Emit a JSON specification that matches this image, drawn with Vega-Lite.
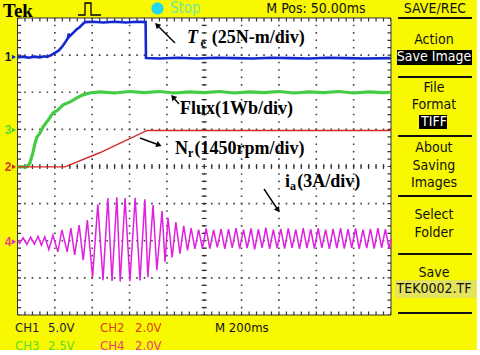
{
"$schema": "https://vega.github.io/schema/vega-lite/v6.json",
"width": 480, "height": 355,
"autosize": {"type": "fit", "contains": "padding"},
"padding": 0,
"background": "#ffffff",
"config": {"view": {"stroke": null}},
"data": {"values": [{}]},
"datasets": {
"vgrid": [{"d":1},{"d":2},{"d":3},{"d":4},{"d":5},{"d":6},{"d":7},{"d":8},{"d":9}],
"hgrid": [{"d":1},{"d":2},{"d":3},{"d":4},{"d":5},{"d":6},{"d":7}],
"ch1": [{"t":0,"v":6.94},{"t":0.15,"v":6.96},{"t":0.3,"v":6.93},{"t":0.45,"v":6.96},{"t":0.6,"v":6.94},{"t":0.72,"v":6.97},{"t":0.79,"v":6.95},{"t":0.9,"v":7.0},{"t":1.0,"v":7.06},{"t":1.1,"v":7.12},{"t":1.19,"v":7.22},{"t":1.27,"v":7.33},{"t":1.35,"v":7.46},{"t":1.37,"v":7.58},{"t":1.39,"v":7.5},{"t":1.49,"v":7.6},{"t":1.58,"v":7.69},{"t":1.67,"v":7.76},{"t":1.75,"v":7.84},{"t":1.81,"v":7.89},{"t":2.0,"v":7.9},{"t":2.3,"v":7.88},{"t":2.6,"v":7.9},{"t":2.9,"v":7.88},{"t":3.2,"v":7.9},{"t":3.43,"v":7.89},{"t":3.44,"v":6.92},{"t":3.8,"v":6.91},{"t":4.3,"v":6.93},{"t":4.8,"v":6.91},{"t":5.3,"v":6.93},{"t":5.8,"v":6.92},{"t":6.3,"v":6.91},{"t":6.8,"v":6.93},{"t":7.3,"v":6.92},{"t":7.8,"v":6.91},{"t":8.3,"v":6.93},{"t":8.8,"v":6.92},{"t":9.3,"v":6.91},{"t":10,"v":6.92}],
"ch2": [{"t":0,"v":3.99},{"t":1.27,"v":3.99},{"t":2.2,"v":4.37},{"t":3.47,"v":4.97},{"t":10,"v":4.97}],
"ch3": [{"t":0,"v":3.99},{"t":0.25,"v":3.99},{"t":0.33,"v":4.09},{"t":0.41,"v":4.36},{"t":0.47,"v":4.63},{"t":0.52,"v":4.79},{"t":0.6,"v":4.9},{"t":0.68,"v":5.06},{"t":0.82,"v":5.25},{"t":0.95,"v":5.44},{"t":1.08,"v":5.52},{"t":1.22,"v":5.66},{"t":1.41,"v":5.74},{"t":1.59,"v":5.85},{"t":1.75,"v":5.93},{"t":1.94,"v":5.98},{"t":2.21,"v":6.01},{"t":2.6,"v":5.98},{"t":3.0,"v":6.02},{"t":3.4,"v":5.99},{"t":3.8,"v":6.02},{"t":4.2,"v":5.98},{"t":4.6,"v":6.01},{"t":5.0,"v":5.99},{"t":5.4,"v":6.02},{"t":5.8,"v":5.98},{"t":6.2,"v":6.01},{"t":6.6,"v":5.99},{"t":7.0,"v":6.02},{"t":7.4,"v":5.98},{"t":7.8,"v":6.01},{"t":8.2,"v":5.99},{"t":8.6,"v":6.02},{"t":9.0,"v":5.98},{"t":9.4,"v":6.01},{"t":9.8,"v":5.99},{"t":10,"v":6.0}],
"ch4": [{"t":0,"v":2.0},{"t":0.06,"v":1.93},{"t":0.15,"v":2.08},{"t":0.25,"v":1.9},{"t":0.35,"v":2.1},{"t":0.45,"v":1.91},{"t":0.55,"v":2.12},{"t":0.64,"v":1.88},{"t":0.73,"v":2.11},{"t":0.84,"v":1.76},{"t":0.95,"v":2.15},{"t":1.08,"v":1.7},{"t":1.19,"v":2.29},{"t":1.33,"v":1.7},{"t":1.43,"v":2.34},{"t":1.53,"v":1.62},{"t":1.65,"v":2.42},{"t":1.76,"v":1.48},{"t":1.87,"v":2.56},{"t":2.01,"v":1.02},{"t":2.15,"v":2.98},{"t":2.29,"v":0.94},{"t":2.42,"v":3.15},{"t":2.53,"v":0.92},{"t":2.66,"v":3.17},{"t":2.75,"v":0.9},{"t":2.88,"v":3.15},{"t":3.01,"v":0.91},{"t":3.15,"v":3.16},{"t":3.28,"v":0.93},{"t":3.41,"v":3.12},{"t":3.49,"v":1.02},{"t":3.63,"v":2.96},{"t":3.73,"v":1.21},{"t":3.87,"v":2.8},{"t":3.95,"v":1.43},{"t":4.03,"v":2.62},{"t":4.14,"v":1.55},{"t":4.24,"v":2.5},{"t":4.35,"v":1.65},{"t":4.45,"v":2.4},{"t":4.55,"v":1.74},{"t":4.65,"v":2.34},{"t":4.75,"v":1.78},{"t":4.85,"v":2.3},{"t":4.95,"v":1.8},{"t":5.05,"v":2.33},{"t":5.15,"v":1.79},{"t":5.25,"v":2.29},{"t":5.35,"v":1.82},{"t":5.45,"v":2.32},{"t":5.55,"v":1.78},{"t":5.65,"v":2.31},{"t":5.75,"v":1.81},{"t":5.85,"v":2.34},{"t":5.95,"v":1.79},{"t":6.05,"v":2.3},{"t":6.15,"v":1.8},{"t":6.25,"v":2.33},{"t":6.35,"v":1.77},{"t":6.45,"v":2.31},{"t":6.55,"v":1.81},{"t":6.65,"v":2.35},{"t":6.75,"v":1.78},{"t":6.85,"v":2.3},{"t":6.95,"v":1.8},{"t":7.05,"v":2.32},{"t":7.15,"v":1.79},{"t":7.25,"v":2.33},{"t":7.35,"v":1.81},{"t":7.45,"v":2.3},{"t":7.55,"v":1.78},{"t":7.65,"v":2.34},{"t":7.75,"v":1.8},{"t":7.85,"v":2.31},{"t":7.95,"v":1.79},{"t":8.05,"v":2.33},{"t":8.15,"v":1.81},{"t":8.25,"v":2.3},{"t":8.35,"v":1.78},{"t":8.45,"v":2.32},{"t":8.55,"v":1.8},{"t":8.65,"v":2.34},{"t":8.75,"v":1.79},{"t":8.85,"v":2.31},{"t":8.95,"v":1.81},{"t":9.05,"v":2.33},{"t":9.15,"v":1.78},{"t":9.25,"v":2.3},{"t":9.35,"v":1.8},{"t":9.45,"v":2.32},{"t":9.55,"v":1.79},{"t":9.65,"v":2.34},{"t":9.75,"v":1.81},{"t":9.85,"v":2.31},{"t":9.95,"v":1.79},{"t":10,"v":2.05}],
"markers": [{"ch":"1","lvl":6.95},{"ch":"2","lvl":3.99},{"ch":"3","lvl":4.98},{"ch":"4","lvl":1.97}],
"ann": [{"txt":"(25N-m/div)","x":5.2,"y":7.317},{"txt":"Flux(1Wb/div)","x":4.351,"y":5.414},{"txt":"N","x":4.217,"y":4.337},{"txt":"(1450rpm/div)","x":4.74,"y":4.337},{"txt":"i","x":7.162,"y":3.448},{"txt":"(3A/div)","x":7.49,"y":3.448}],
"annT": [{"txt":"T","x":4.54,"y":7.317}],
"subs": [{"txt":"e","x":4.9,"y":7.219},{"txt":"r","x":4.565,"y":4.256},{"txt":"a","x":7.296,"y":3.367}],
"arrows": [{"x":4.217,"y":7.327,"x2":3.735,"y2":7.811},{"x":4.324,"y":5.684,"x2":4.163,"y2":5.872},{"x":3.28,"y":4.768,"x2":3.789,"y2":4.579},{"x":6.6,"y":3.394,"x2":6.975,"y2":2.828}],
"menu": [{"txt":"Action","y":7.407},{"txt":"File","y":6.114},{"txt":"Format","y":5.657},{"txt":"About","y":4.498},{"txt":"Saving","y":4.013},{"txt":"Images","y":3.556},{"txt":"Select","y":2.694},{"txt":"Folder","y":2.209},{"txt":"Save","y":1.131},{"txt":"TEK0002.TF","y":0.7}],
"menuInv": [{"txt":"Save Image","y":6.936},{"txt":"TIFF","y":5.199}],
"seps": [{"y":8.0},{"y":6.411},{"y":4.822},{"y":3.205},{"y":1.643},{"y":0.054}],
"boxes": [{"x":10.161,"x2":12.169,"y":6.734,"y2":7.138},{"x":10.75,"x2":11.5,"y":5.01,"y2":5.387}],
"topTxt": [{"txt":"M Pos: 50.00ms","x":7.992,"y":8.135},{"txt":"SAVE/REC","x":11.178,"y":8.135}],
"bot": [{"txt":"CH1","x":-0.067,"y":-0.46,"g":"1"},{"txt":"5.0V","x":0.817,"y":-0.46,"g":"1"},{"txt":"CH2","x":2.209,"y":-0.46,"g":"2"},{"txt":"2.0V","x":3.146,"y":-0.46,"g":"2"},{"txt":"M 200ms","x":5.288,"y":-0.46,"g":"M"},{"txt":"CH3","x":-0.067,"y":-0.93,"g":"3"},{"txt":"2.5V","x":0.817,"y":-0.93,"g":"3"},{"txt":"CH4","x":2.209,"y":-0.93,"g":"4"},{"txt":"2.0V","x":3.146,"y":-0.93,"g":"4"}],
"trig": [{"t":1.62,"v":8.081},{"t":1.807,"v":8.081},{"t":1.808,"v":8.404},{"t":1.968,"v":8.404},{"t":1.969,"v":8.081},{"t":2.236,"v":8.081}]
},
"layer": [
{"mark": {"type":"rect","color":"#f8f800"},
 "encoding": {"x":{"datum":-0.4685,"type":"quantitative","scale":{"domain":[-0.4685,12.383],"nice":false,"zero":false},"axis":null},"x2":{"datum":12.3},
  "y":{"datum":-0.943,"type":"quantitative","scale":{"domain":[-1.0774,8.4848],"nice":false,"zero":false},"axis":null},"y2":{"datum":8.4848}}},
{"mark": {"type":"rect","color":"#ffffff"},
 "encoding": {"x":{"datum":0,"type":"quantitative","axis":null},"x2":{"datum":10},"y":{"datum":0,"type":"quantitative","axis":null},"y2":{"datum":8}}},
{"mark": {"type":"rect","color":"#e4e45c"},
 "encoding": {"x":{"datum":10.107,"type":"quantitative","axis":null},"x2":{"datum":12.3},"y":{"datum":0.458,"type":"quantitative","axis":null},"y2":{"datum":0.943}}},
{"data":{"name":"boxes"},"mark": {"type":"rect","color":"#000000"},
 "encoding": {"x":{"field":"x","type":"quantitative","axis":null},"x2":{"field":"x2"},"y":{"field":"y","type":"quantitative","axis":null},"y2":{"field":"y2"}}},
{"data":{"name":"vgrid"},"mark": {"type":"rule","color":"#444444","strokeWidth":1.6,"strokeDash":[1.6,5.825],"strokeDashOffset":0.8},
 "encoding": {"x":{"field":"d","type":"quantitative","axis":null},"y":{"datum":0,"type":"quantitative","axis":null},"y2":{"datum":8}}},
{"data":{"name":"hgrid"},"mark": {"type":"rule","color":"#444444","strokeWidth":1.6,"strokeDash":[1.6,5.87],"strokeDashOffset":0.8},
 "encoding": {"y":{"field":"d","type":"quantitative","axis":null},"x":{"datum":0,"type":"quantitative","axis":null},"x2":{"datum":10}}},
{"mark": {"type":"rule","color":"#333333","strokeWidth":5,"strokeDash":[1.2,6.225],"strokeDashOffset":0.6},
 "encoding": {"x":{"datum":5,"type":"quantitative","axis":null},"y":{"datum":0,"type":"quantitative","axis":null},"y2":{"datum":8}}},
{"mark": {"type":"rule","color":"#333333","strokeWidth":5,"strokeDash":[1.2,6.27],"strokeDashOffset":0.6},
 "encoding": {"y":{"datum":4,"type":"quantitative","axis":null},"x":{"datum":0,"type":"quantitative","axis":null},"x2":{"datum":10}}},
{"mark": {"type":"rule","color":"#333333","strokeWidth":3.5,"strokeDash":[1.2,6.225],"strokeDashOffset":0.6},
 "encoding": {"x":{"datum":0.047,"type":"quantitative","axis":null},"y":{"datum":0,"type":"quantitative","axis":null},"y2":{"datum":8}}},
{"mark": {"type":"rule","color":"#333333","strokeWidth":3.5,"strokeDash":[1.2,6.225],"strokeDashOffset":0.6},
 "encoding": {"x":{"datum":9.953,"type":"quantitative","axis":null},"y":{"datum":0,"type":"quantitative","axis":null},"y2":{"datum":8}}},
{"mark": {"type":"rule","color":"#333333","strokeWidth":3.5,"strokeDash":[1.2,6.27],"strokeDashOffset":0.6},
 "encoding": {"y":{"datum":0.047,"type":"quantitative","axis":null},"x":{"datum":0,"type":"quantitative","axis":null},"x2":{"datum":10}}},
{"mark": {"type":"rule","color":"#333333","strokeWidth":3.5,"strokeDash":[1.2,6.27],"strokeDashOffset":0.6},
 "encoding": {"y":{"datum":7.953,"type":"quantitative","axis":null},"x":{"datum":0,"type":"quantitative","axis":null},"x2":{"datum":10}}},
{"mark": {"type":"rect","fill":null,"fillOpacity":0,"stroke":"#333333","strokeWidth":1},
 "encoding": {"x":{"datum":0,"type":"quantitative","axis":null},"x2":{"datum":10},"y":{"datum":0,"type":"quantitative","axis":null},"y2":{"datum":8}}},
{"data":{"name":"ch3"},"mark": {"type":"line","color":"#44cc44","strokeWidth":3.2},
 "encoding": {"x":{"field":"t","type":"quantitative","axis":null},"y":{"field":"v","type":"quantitative","axis":null}}},
{"data":{"name":"ch2"},"mark": {"type":"line","color":"#d42828","strokeWidth":1.4},
 "encoding": {"x":{"field":"t","type":"quantitative","axis":null},"y":{"field":"v","type":"quantitative","axis":null}}},
{"data":{"name":"ch1"},"mark": {"type":"line","color":"#1428d0","strokeWidth":2.6},
 "encoding": {"x":{"field":"t","type":"quantitative","axis":null},"y":{"field":"v","type":"quantitative","axis":null}}},
{"data":{"name":"ch4"},"mark": {"type":"line","color":"#e020e0","strokeWidth":1.5},
 "encoding": {"x":{"field":"t","type":"quantitative","axis":null},"y":{"field":"v","type":"quantitative","axis":null}}},
{"data":{"name":"markers"},"mark": {"type":"text","font":"Liberation Sans","fontSize":12,"fontWeight":"bold","align":"center","baseline":"middle"},
 "encoding": {"x":{"datum":-0.254,"type":"quantitative","axis":null},"y":{"field":"lvl","type":"quantitative","axis":null},"text":{"field":"ch"},
  "color":{"field":"ch","type":"nominal","scale":{"domain":["1","2","3","4","M"],"range":["#1c1c3c","#d8401a","#5cdc30","#e8407a","#111111"]},"legend":null}}},
{"data":{"name":"markers"},"mark": {"type":"point","shape":"triangle-right","filled":true,"size":22,"opacity":1},
 "encoding": {"x":{"datum":-0.094,"type":"quantitative","axis":null},"y":{"field":"lvl","type":"quantitative","axis":null},
  "fill":{"field":"ch","type":"nominal","scale":{"domain":["1","2","3","4"],"range":["#1428d0","#d42828","#44cc44","#e020e0"]},"legend":null}}},
{"data":{"name":"ann"},"mark": {"type":"text","font":"Liberation Serif","fontSize":18,"fontWeight":"bold","align":"left","baseline":"alphabetic","color":"#000000"},
 "encoding": {"x":{"field":"x","type":"quantitative","axis":null},"y":{"field":"y","type":"quantitative","axis":null},"text":{"field":"txt"}}},
{"data":{"name":"annT"},"mark": {"type":"text","font":"Liberation Serif","fontSize":18,"fontWeight":"bold","fontStyle":"italic","align":"left","baseline":"alphabetic","color":"#000000"},
 "encoding": {"x":{"field":"x","type":"quantitative","axis":null},"y":{"field":"y","type":"quantitative","axis":null},"text":{"field":"txt"}}},
{"data":{"name":"subs"},"mark": {"type":"text","font":"Liberation Serif","fontSize":12,"fontWeight":"bold","align":"left","baseline":"alphabetic","color":"#000000"},
 "encoding": {"x":{"field":"x","type":"quantitative","axis":null},"y":{"field":"y","type":"quantitative","axis":null},"text":{"field":"txt"}}},
{"data":{"name":"arrows"},"mark": {"type":"rule","color":"#000000","strokeWidth":1.4},
 "encoding": {"x":{"field":"x","type":"quantitative","axis":null},"y":{"field":"y","type":"quantitative","axis":null},"x2":{"field":"x2"},"y2":{"field":"y2"}}},
{"data":{"name":"arrows"},"transform":[{"calculate":"atan2(datum.x2 - datum.x, datum.y2 - datum.y) * 180 / PI","as":"ang"}],
 "mark": {"type":"point","shape":"triangle-up","filled":true,"size":40,"color":"#000000","opacity":1},
 "encoding": {"x":{"field":"x2","type":"quantitative","axis":null},"y":{"field":"y2","type":"quantitative","axis":null},"angle":{"field":"ang","type":"quantitative","scale":null}}},
{"mark": {"type":"text","text":"Tek","font":"Liberation Serif","fontSize":19,"fontWeight":"bold","align":"left","baseline":"alphabetic","color":"#000000"},
 "encoding": {"x":{"datum":-0.388,"type":"quantitative","axis":null},"y":{"datum":8.027,"type":"quantitative","axis":null}}},
{"data":{"name":"trig"},"mark": {"type":"line","color":"#000000","strokeWidth":1.3},
 "encoding": {"x":{"field":"t","type":"quantitative","axis":null},"y":{"field":"v","type":"quantitative","axis":null}}},
{"mark": {"type":"point","shape":"circle","filled":true,"size":150,"color":"#22d8f0","opacity":1},
 "encoding": {"x":{"datum":3.748,"type":"quantitative","axis":null},"y":{"datum":8.256,"type":"quantitative","axis":null}}},
{"mark": {"type":"text","text":"Stop","font":"DejaVu Sans Condensed, sans-serif","fontSize":15,"align":"left","baseline":"alphabetic","color":"#6ee8a4"},
 "encoding": {"x":{"datum":4.083,"type":"quantitative","axis":null},"y":{"datum":8.135,"type":"quantitative","axis":null}}},
{"data":{"name":"topTxt"},"mark": {"type":"text","font":"DejaVu Sans Condensed, sans-serif","fontSize":14,"align":"center","baseline":"alphabetic","color":"#111111"},
 "encoding": {"x":{"field":"x","type":"quantitative","axis":null},"y":{"field":"y","type":"quantitative","axis":null},"text":{"field":"txt"}}},
{"data":{"name":"seps"},"mark": {"type":"rule","color":"#111111","strokeWidth":1.8},
 "encoding": {"y":{"field":"y","type":"quantitative","axis":null},"x":{"datum":10.19,"type":"quantitative","axis":null},"x2":{"datum":12.17}}},
{"data":{"name":"menu"},"mark": {"type":"text","font":"DejaVu Sans Condensed, sans-serif","fontSize":14,"align":"center","baseline":"middle","color":"#111111"},
 "encoding": {"x":{"datum":11.15,"type":"quantitative","axis":null},"y":{"field":"y","type":"quantitative","axis":null},"text":{"field":"txt"}}},
{"data":{"name":"menuInv"},"mark": {"type":"text","font":"DejaVu Sans Condensed, sans-serif","fontSize":14,"align":"center","baseline":"middle","color":"#ffffff"},
 "encoding": {"x":{"datum":11.15,"type":"quantitative","axis":null},"y":{"field":"y","type":"quantitative","axis":null},"text":{"field":"txt"}}},
{"data":{"name":"bot"},"mark": {"type":"text","font":"DejaVu Sans Condensed, sans-serif","fontSize":13,"align":"left","baseline":"alphabetic"},
 "encoding": {"x":{"field":"x","type":"quantitative","axis":null},"y":{"field":"y","type":"quantitative","axis":null},"text":{"field":"txt"},
  "color":{"field":"g","type":"nominal","scale":{"domain":["1","2","3","4","M"],"range":["#1c1c3c","#d8401a","#5cdc30","#e8407a","#111111"]},"legend":null}}},
{"mark": {"type":"rect","color":"#ffffff"},
 "encoding": {"x":{"datum":-0.4685,"type":"quantitative","axis":null},"x2":{"datum":12.383},"y":{"datum":-1.0774,"type":"quantitative","axis":null},"y2":{"datum":-0.943}}},
{"mark": {"type":"rect","color":"#ffffff"},
 "encoding": {"x":{"datum":12.3,"type":"quantitative","axis":null},"x2":{"datum":12.383},"y":{"datum":-1.0774,"type":"quantitative","axis":null},"y2":{"datum":8.4848}}}
]
}
